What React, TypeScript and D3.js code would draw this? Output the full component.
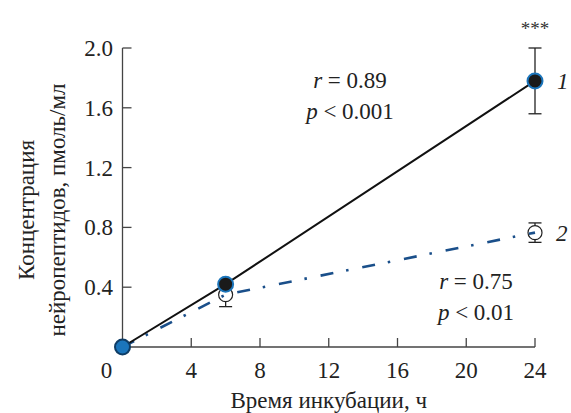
import * as React from "react";
import { useRef, useEffect } from "react";
import * as d3 from "d3";

// hours of incubation
const hours = [0, 6, 24];
// series 1 (filled circles)
const series1Mean = [0, 0.42, 1.78];
const series1Err = [0, 0, 0.22];
// series 2 (open circles)
const series2Mean = [0, 0.35, 0.765];
const series2Err = [0, 0.08, 0.065];

const xTicks = [0, 4, 8, 12, 16, 20, 24];
const yTicks = [0.4, 0.8, 1.2, 1.6, 2.0];

const FONT = "'Liberation Serif', 'Times New Roman', serif";
const BLUE = "#1b75bb";
const DARK_BLUE = "#1a4f8a";

export default function App() {
  const _ref = useRef<HTMLDivElement>(null);

  useEffect(() => {
    const root = _ref.current;
    if (!root) return;
    root.innerHTML = "";
    const width = 571;
    const height = 413;

    const x = d3.scaleLinear().domain([0, 24]).range([122.5, 535]);
    const y = d3.scaleLinear().domain([0, 2.0]).range([347, 48]);

    const svg = d3
      .select(root)
      .append("svg")
      .attr("width", width)
      .attr("height", height)
      .style("position", "absolute")
      .style("left", "0px")
      .style("top", "0px")
      .style("font-family", FONT);

    svg.append("rect").attr("width", width).attr("height", height).attr("fill", "#fff");

    const axisColor = "#444";

    // axes lines
    svg
      .append("line")
      .attr("x1", x(0))
      .attr("x2", x(24))
      .attr("y1", y(0))
      .attr("y2", y(0))
      .attr("stroke", axisColor)
      .attr("stroke-width", 1.3);
    svg
      .append("line")
      .attr("x1", x(0))
      .attr("x2", x(0))
      .attr("y1", y(0))
      .attr("y2", y(2.0))
      .attr("stroke", axisColor)
      .attr("stroke-width", 1.3);

    // x ticks (inward)
    const xt = svg.append("g").selectAll("g").data(xTicks).join("g");
    xt.filter((d) => d !== 0)
      .append("line")
      .attr("x1", (d) => x(d))
      .attr("x2", (d) => x(d))
      .attr("y1", y(0))
      .attr("y2", y(0) - 9)
      .attr("stroke", axisColor)
      .attr("stroke-width", 1.3);
    xt.append("text")
      .attr("x", (d) => (d === 0 ? x(d) - 16 : x(d)))
      .attr("y", y(0) + 31)
      .attr("text-anchor", "middle")
      .style("font-size", "23px")
      .attr("fill", "#222")
      .text((d) => d);

    // y ticks (inward)
    const yt = svg.append("g").selectAll("g").data(yTicks).join("g");
    yt.append("line")
      .attr("x1", x(0))
      .attr("x2", x(0) + 9)
      .attr("y1", (d) => y(d))
      .attr("y2", (d) => y(d))
      .attr("stroke", axisColor)
      .attr("stroke-width", 1.3);
    yt.append("text")
      .attr("x", 113)
      .attr("y", (d) => y(d) + 8)
      .attr("text-anchor", "end")
      .style("font-size", "23px")
      .attr("fill", "#222")
      .text((d) => d.toFixed(1));

    // axis titles
    svg
      .append("text")
      .attr("x", (x(0) + x(24)) / 2)
      .attr("y", 408)
      .attr("text-anchor", "middle")
      .style("font-size", "23px")
      .attr("fill", "#222")
      .text("Время инкубации, ч");

    const yTitle = svg
      .append("g")
      .attr("transform", "translate(0,210) rotate(-90)");
    yTitle
      .append("text")
      .attr("x", 0)
      .attr("y", 34)
      .attr("text-anchor", "middle")
      .style("font-size", "23px")
      .attr("fill", "#222")
      .text("Концентрация");
    yTitle
      .append("text")
      .attr("x", 0)
      .attr("y", 65)
      .attr("text-anchor", "middle")
      .style("font-size", "23px")
      .attr("fill", "#222")
      .text("нейропептидов, пмоль/мл");

    const line = d3
      .line<number>()
      .x((d, i) => x(hours[i]))
      .y((d) => y(d));

    // error bars
    const errBar = (means: number[], errs: number[]) => {
      const g = svg.append("g");
      hours.forEach((h, i) => {
        if (!errs[i]) return;
        const lo = y(means[i] - errs[i]);
        const hi = y(means[i] + errs[i]);
        g.append("line")
          .attr("x1", x(h))
          .attr("x2", x(h))
          .attr("y1", lo)
          .attr("y2", hi)
          .attr("stroke", "#222")
          .attr("stroke-width", 1.3);
        [lo, hi].forEach((yy) =>
          g
            .append("line")
            .attr("x1", x(h) - 6.5)
            .attr("x2", x(h) + 6.5)
            .attr("y1", yy)
            .attr("y2", yy)
            .attr("stroke", "#222")
            .attr("stroke-width", 1.3)
        );
      });
    };

    errBar(series2Mean, series2Err);

    // series 2: open circles
    svg
      .append("g")
      .selectAll("circle")
      .data(series2Mean.slice(1))
      .join("circle")
      .attr("cx", (d, i) => x(hours[i + 1]))
      .attr("cy", (d) => y(d))
      .attr("r", 7)
      .attr("fill", "#fff")
      .attr("stroke", "#222")
      .attr("stroke-width", 1.2);

    // series 2 dash-dot line
    svg
      .append("path")
      .datum(series2Mean)
      .attr("fill", "none")
      .attr("stroke", DARK_BLUE)
      .attr("stroke-width", 2.6)
      .attr("stroke-dasharray", "13,13,2.5,14")
      .attr("d", line);

    errBar(series1Mean, series1Err);

    // series 1 solid line
    svg
      .append("path")
      .datum(series1Mean)
      .attr("fill", "none")
      .attr("stroke", "#111")
      .attr("stroke-width", 2)
      .attr("d", line);

    // series 1 filled circles
    svg
      .append("g")
      .selectAll("circle")
      .data(series1Mean)
      .join("circle")
      .attr("cx", (d, i) => x(hours[i]))
      .attr("cy", (d) => y(d))
      .attr("r", 7.5)
      .attr("fill", (d, i) => (i === 0 ? BLUE : "#1a1a1a"))
      .attr("stroke", (d, i) => (i === 0 ? "#0f3d66" : BLUE))
      .attr("stroke-width", 2);

    // annotations
    const stat = (cx: number, by: number, r: string, p: string) => {
      const t1 = svg
        .append("text")
        .attr("x", cx)
        .attr("y", by)
        .attr("text-anchor", "middle")
        .style("font-size", "23px")
        .attr("fill", "#222");
      t1.append("tspan").style("font-style", "italic").text("r");
      t1.append("tspan").text(" = " + r);
      const t2 = svg
        .append("text")
        .attr("x", cx)
        .attr("y", by + 31)
        .attr("text-anchor", "middle")
        .style("font-size", "23px")
        .attr("fill", "#222");
      t2.append("tspan").style("font-style", "italic").text("p");
      t2.append("tspan").text(" < " + p);
    };
    stat(350, 88, "0.89", "0.001");
    stat(476, 289, "0.75", "0.01");

    svg
      .append("text")
      .attr("x", x(24))
      .attr("y", 35)
      .attr("text-anchor", "middle")
      .style("font-size", "19px")
      .attr("fill", "#333")
      .text("***");

    svg
      .append("text")
      .attr("x", 557)
      .attr("y", y(series1Mean[2]) + 8)
      .style("font-size", "23px")
      .style("font-style", "italic")
      .attr("fill", "#222")
      .text("1");
    svg
      .append("text")
      .attr("x", 556)
      .attr("y", y(series2Mean[2]) + 8)
      .style("font-size", "23px")
      .style("font-style", "italic")
      .attr("fill", "#222")
      .text("2");
  }, []);

  return <div ref={_ref}></div>;
}
